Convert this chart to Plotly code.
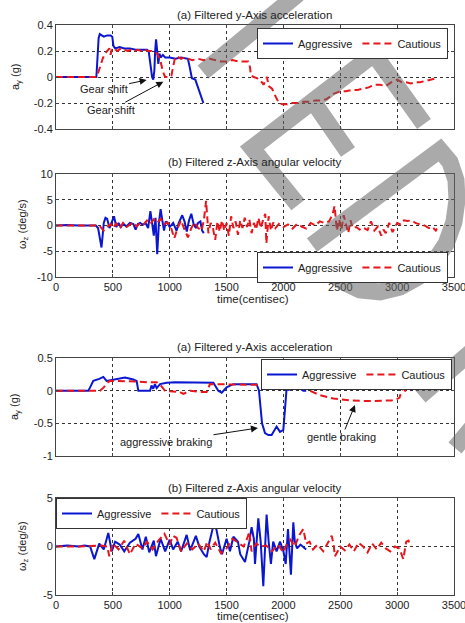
import plotly.graph_objects as go

# ---------------- data ----------------
# Panel 1: y-axis acceleration (g), drive 1
t_c1 = [0, 350, 370, 390, 410, 430, 450, 470, 480, 490,
        510, 540, 570, 600, 630, 660, 690, 720, 750, 780,
        810, 840, 870, 890, 905, 920, 940, 960, 990, 1015,
        1030, 1045, 1060, 1075, 1100, 1130, 1160, 1200, 1250, 1300,
        1350, 1400, 1450, 1500, 1550, 1600, 1650, 1690, 1705, 1715,
        1740, 1770, 1790, 1810, 1825, 1840, 1855, 1870, 1900, 1920,
        1940, 1960, 1990, 2030, 2080, 2130, 2180, 2230, 2280, 2330,
        2380, 2410, 2440, 2470, 2500, 2550, 2600, 2650, 2700, 2750,
        2800, 2850, 2900, 2950, 3000, 3040, 3080, 3120, 3160, 3200,
        3250, 3300, 3345]
ay_c1 = [0.0, 0.0, 0.03, 0.09, 0.14, 0.18, 0.20, 0.22, 0.17, 0.21,
         0.22, 0.20, 0.22, 0.21, 0.20, 0.21, 0.20, 0.21, 0.20, 0.21,
         0.20, 0.20, 0.19, 0.18, 0.15, 0.12, 0.04, 0.0, 0.0, 0.01,
         0.08, 0.14, 0.16, 0.15, 0.14, 0.15, 0.14, 0.13, 0.14, 0.13,
         0.14, 0.13, 0.12, 0.12, 0.13, 0.12, 0.12, 0.12, 0.08, 0.01,
         0.0, -0.01, -0.03, -0.04, -0.06, -0.03, 0.0, -0.07, -0.09, -0.13,
         -0.17, -0.20, -0.21, -0.21, -0.20, -0.20, -0.19, -0.19, -0.18, -0.18,
         -0.17, -0.15, -0.13, -0.12, -0.11, -0.11, -0.10, -0.10, -0.09, -0.08,
         -0.06, -0.06, -0.07, -0.04, -0.02, -0.04, -0.04, -0.05, -0.04, -0.04,
         -0.03, -0.02, -0.01]
t_a1 = [0, 355, 365, 375, 385, 400, 420, 450, 480, 495,
        505, 520, 560, 600, 650, 700, 750, 800, 815, 830,
        845, 855, 865, 872, 880, 890, 900, 910, 920, 940,
        960, 1000, 1050, 1100, 1160, 1175, 1195, 1225, 1296]
ay_a1 = [0.0, 0.0, 0.15, 0.30, 0.33, 0.32, 0.31, 0.32, 0.32, 0.31,
         0.24, 0.22, 0.23, 0.22, 0.22, 0.21, 0.21, 0.21, 0.20, 0.10,
         0.0, -0.02, 0.05, 0.20, 0.29, 0.20, 0.10, 0.18, 0.15, 0.17,
         0.15, 0.15, 0.14, 0.15, 0.14, 0.08, -0.01, -0.02, -0.20]

# Panel 2: z-axis angular velocity (deg/s), drive 1
t_a2 = [0, 100, 200, 300, 350, 370, 390, 400, 410, 420,
        435, 450, 470, 490, 510, 530, 550, 570, 590, 620,
        650, 680, 700, 720, 740, 760, 790, 810, 830, 845,
        860, 875, 890, 905, 920, 935, 950, 965, 980, 1000,
        1030, 1060, 1080, 1110, 1130, 1150, 1170, 1190, 1210, 1230,
        1250, 1270, 1285, 1300]
wz_a2 = [0.0, 0.1, 0.0, 0.0, 0.0, -0.5, -3.5, -4.3, -2.0, 0.5,
         1.5, 1.3, -0.5, 0.5, 1.8, -0.3, 0.5, -0.3, 0.4, -0.2,
         0.5, 0.3, -0.8, 0.3, 0.5, 0.2, 0.4, -0.5, 2.8, 0.5,
         -2.0, 1.5, -5.6, 0.5, 3.2, 1.0, -1.0, 0.8, 0.5, -0.3,
         0.5, -1.0, 0.5, 2.0, 0.8, -1.2, 1.0, 2.3, 0.3, -0.5,
         0.5, 0.8, -1.0, -1.5]
t_c2 = [0, 100, 200, 300, 380, 400, 420, 450, 480, 500,
        530, 560, 590, 620, 650, 680, 710, 740, 770, 800,
        830, 860, 890, 920, 950, 980, 1010, 1040, 1070, 1100,
        1130, 1160, 1190, 1220, 1250, 1280, 1300, 1320, 1340, 1360,
        1380, 1400, 1420, 1440, 1460, 1480, 1500, 1520, 1540, 1560,
        1580, 1600, 1620, 1640, 1660, 1680, 1700, 1720, 1740, 1760,
        1780, 1800, 1820, 1840, 1850, 1870, 1890, 1910, 1930, 1960,
        2000, 2040, 2080, 2120, 2160, 2200, 2240, 2280, 2320, 2360,
        2400, 2430, 2450, 2470, 2490, 2510, 2530, 2550, 2570, 2590,
        2610, 2640, 2670, 2700, 2740, 2770, 2800, 2830, 2860, 2880,
        2900, 2930, 2960, 3000, 3030, 3060, 3090, 3130, 3160, 3200,
        3240, 3280, 3310, 3340, 3350]
wz_c2 = [0.0, 0.0, 0.1, 0.0, 0.0, -0.5, -1.0, -0.3, 0.3, -0.5,
         0.4, -0.6, 0.5, -0.3, 0.2, 0.6, -0.2, 0.5, 0.2, 1.0,
         0.3, 1.2, 0.5, 1.3, 0.2, 0.6, -0.3, -2.5, -0.5, 1.0,
         -0.8, -2.3, -0.5, 0.6, -0.5, -1.0, 1.0, 4.8, -1.5, 0.5,
         -0.5, -2.8, 0.8, -1.2, 1.0, -1.0, 0.5, -2.0, 1.8, -0.5,
         0.8, -1.8, 1.0, -0.5, 1.5, -0.3, 1.2, -1.5, 0.5, -0.8,
         1.5, -0.5, 1.0, 2.3, -3.5, 1.8, -1.0, 0.6, -0.5, 0.3,
         -0.3, 0.2, -0.6, 0.3, -0.2, -0.6, 0.5, 0.0, 0.8, 0.5,
         0.8, 2.0, 3.8, -1.0, 1.2, -0.8, 2.0, 0.3, -1.5, 1.0,
         -0.5, -0.3, -0.8, -0.4, -0.9, 0.8, -1.0, -0.2, -2.0, -0.8,
         -1.5, 0.5, -1.3, 0.5, 0.2, 1.0, 0.9, 1.0, 0.5, 0.2,
         0.0, -0.5, -0.3, -1.0, -0.6]

# Panel 3: y-axis acceleration (g), braking drive
t_a3 = [0, 284, 300, 328, 380, 416, 445, 504, 560, 607,
        680, 709, 724, 760, 827, 840, 855, 870, 885, 915,
        973, 1050, 1150, 1250, 1325, 1384, 1427, 1457, 1500, 1559,
        1650, 1764, 1785, 1800, 1812, 1838, 1867, 1896, 1926, 1940,
        1970, 1999, 2013, 2024, 2034, 2045, 2052, 2087, 2146, 2175,
        2200]
ay_a3 = [0.0, 0.0, 0.05, 0.15, 0.18, 0.21, 0.15, 0.17, 0.19, 0.20,
         0.17, 0.15, 0.0, 0.0, 0.0, 0.08, 0.03, 0.10, 0.04, 0.10,
         0.12, 0.13, 0.13, 0.13, 0.13, 0.12, 0.0, -0.03, 0.05, 0.10,
         0.10, 0.10, 0.0, -0.30, -0.50, -0.65, -0.68, -0.68, -0.60, -0.55,
         -0.63, -0.60, -0.30, 0.0, 0.17, 0.0, 0.05, 0.05, 0.03, 0.0,
         0.0]
t_c3 = [0, 387, 420, 450, 475, 533, 600, 700, 800, 885,
        920, 958, 1000, 1090, 1120, 1150, 1178, 1266, 1325, 1354,
        1450, 1600, 1750, 1900, 2000, 2087, 2110, 2131, 2150, 2175,
        2233, 2321, 2439, 2585, 2732, 2878, 2950, 2996, 3020, 3040,
        3054, 3078]
ay_c3 = [0.0, 0.0, 0.05, 0.12, 0.15, 0.15, 0.14, 0.14, 0.13, 0.13,
         0.08, 0.0, -0.01, -0.02, -0.05, -0.03, 0.0, -0.02, -0.02, 0.10,
         0.10, 0.10, 0.09, 0.08, 0.08, 0.07, 0.11, 0.06, 0.10, 0.05,
         0.0, -0.07, -0.12, -0.15, -0.16, -0.16, -0.15, -0.13, -0.11, 0.0,
         0.04, -0.02]

# Panel 4: z-axis angular velocity (deg/s), braking drive
t_a4 = [0, 100, 200, 250, 300, 337, 380, 420, 460, 490,
        520, 560, 600, 650, 700, 724, 760, 790, 820, 860,
        879, 920, 960, 1000, 1030, 1070, 1100, 1149, 1180, 1230,
        1260, 1300, 1325, 1350, 1383, 1410, 1440, 1460, 1500, 1530,
        1560, 1600, 1620, 1662, 1700, 1720, 1740, 1750, 1779, 1800,
        1823, 1852, 1870, 1890, 1910, 1940, 1970, 2000, 2020, 2040,
        2066, 2087, 2100, 2120, 2150, 2200]
wz_a4 = [0.0, 0.1, 0.0, 0.1, 0.0, -1.3, 0.3, -0.3, 1.4, -0.5,
         0.5, 0.2, -0.5, 0.4, 0.8, 1.3, -0.3, 1.0, -0.6, 0.6,
         -1.0, 0.8, -0.5, 0.7, -0.3, 0.5, -0.5, 1.2, -0.4, 1.1,
         0.0, -0.8, -1.1, 0.5, 2.1, 1.8, 0.0, -0.8, 0.8, -0.5,
         1.0, 0.5, -0.8, -1.6, 0.5, 2.0, 0.8, -1.8, 2.9, 0.5,
         -4.1, 3.3, 0.5, -1.8, 0.5, -0.5, 0.5, -0.5, -1.8, 1.8,
         -2.9, 2.5, 0.5, -0.2, 0.2, -0.3]
t_c4 = [0, 200, 400, 450, 469, 500, 550, 600, 650, 700,
        760, 800, 850, 900, 953, 1000, 1030, 1060, 1100, 1150,
        1200, 1250, 1300, 1330, 1360, 1400, 1450, 1500, 1550, 1600,
        1650, 1680, 1700, 1720, 1760, 1800, 1850, 1900, 1950, 2000,
        2030, 2060, 2100, 2140, 2175, 2200, 2230, 2260, 2300, 2350,
        2400, 2424, 2440, 2453, 2500, 2540, 2580, 2620, 2660, 2700,
        2740, 2780, 2820, 2860, 2900, 2940, 2980, 3020, 3054, 3080,
        3100, 3120]
wz_c4 = [0.0, 0.0, 0.1, 0.0, -1.0, 0.3, -0.3, 0.6, -0.8, 0.3,
         -0.2, 0.5, -0.3, 0.6, 1.3, 0.2, 1.1, 0.9, -0.5, 0.3,
         -0.3, 0.3, -0.5, 0.5, -0.3, 0.4, -0.7, -0.2, 0.8, 0.4,
         0.0, 0.8, 1.5, -0.5, 0.3, 0.0, 0.1, -0.5, 0.2, -0.6,
         0.3, 0.7, 0.0, 1.2, 1.8, 0.3, 0.5, -0.3, 0.2, -0.5,
         0.6, 1.1, 0.3, -1.0, 0.0, -0.4, 0.2, -0.5, 0.4, 0.0,
         -0.6, 0.3, -0.3, 0.4, -0.2, -0.5, 0.0, -0.2, -1.3, 0.5,
         0.6, 0.0]

series_names = ["Aggressive", "Cautious"]
x_ticks = [0, 500, 1000, 1500, 2000, 2500, 3000, 3500]
y_ticks_acc1 = [-0.4, -0.2, 0, 0.2, 0.4]
y_text_acc1 = ["-0.4", "-0.2", "0", "0.2", "0.4"]
y_ticks_w1 = [-10, -5, 0, 5, 10]
y_text_w1 = ["-10", "-5", "0", "5", "10"]
y_ticks_acc2 = [-1, -0.5, 0, 0.5]
y_text_acc2 = ["-1", "-0.5", "0", "0.5"]
y_ticks_w2 = [-5, 0, 5]
y_text_w2 = ["-5", "0", "5"]
titles = ["(a) Filtered y-Axis acceleration", "(b) Filtered z-Axis angular velocity",
          "(a) Filtered y-Axis acceleration", "(b) Filtered z-Axis angular velocity"]

# ---------------- layout helpers ----------------
W, H = 465, 623
FONT = "Liberation Sans, Arial, sans-serif"
TXT = "#222222"
BLUE = "#0b16d0"
RED = "#e8161b"
XDOM = [56 / W, 454 / W]
PANELS = [(25, 129), (174.3, 276.7), (358, 456), (498, 595)]  # top, bottom px


def px(x):
    return x / W


def py(y):
    return 1 - y / H


fig = go.Figure()

data = [
    ((t_a1, ay_a1), (t_c1, ay_c1)),
    ((t_a2, wz_a2), (t_c2, wz_c2)),
    ((t_a3, ay_a3), (t_c3, ay_c3)),
    ((t_a4, wz_a4), (t_c4, wz_c4)),
]
for k, (agg, cau) in enumerate(data, start=1):
    sfx = "" if k == 1 else str(k)
    leg = "legend" + sfx
    fig.add_trace(go.Scatter(x=agg[0], y=agg[1], mode="lines", name=series_names[0],
                             line=dict(color=BLUE, width=2), xaxis="x" + sfx, yaxis="y" + sfx,
                             legend=leg))
    fig.add_trace(go.Scatter(x=cau[0], y=cau[1], mode="lines", name=series_names[1],
                             line=dict(color=RED, width=2, dash="7px,4px"),
                             xaxis="x" + sfx, yaxis="y" + sfx, legend=leg))

yspecs = [([-0.4, 0.4], y_ticks_acc1, y_text_acc1),
          ([-10, 10], y_ticks_w1, y_text_w1),
          ([-1, 0.5], y_ticks_acc2, y_text_acc2),
          ([-5, 5], y_ticks_w2, y_text_w2)]

axis_common = dict(showgrid=True, griddash="dot", gridcolor="#333333", gridwidth=1,
                   showline=True, linecolor="#444444", linewidth=1, mirror="ticks",
                   ticks="inside", ticklen=3, tickcolor="#444444", zeroline=False,
                   automargin=False, ticklabeloverflow="allow",
                   tickfont=dict(family=FONT, size=11, color=TXT), fixedrange=True)

layout = dict(width=W, height=H, margin=dict(l=0, r=0, t=0, b=0, pad=0, autoexpand=False),
              paper_bgcolor="white", plot_bgcolor="white",
              font=dict(family=FONT, size=11, color=TXT))

for k in range(1, 5):
    sfx = "" if k == 1 else str(k)
    top, bot = PANELS[k - 1]
    rng, tv, tt = yspecs[k - 1]
    layout["xaxis" + sfx] = dict(axis_common, domain=XDOM, range=[0, 3500], tickvals=x_ticks,
                                 ticktext=[str(v) for v in x_ticks],
                                 showticklabels=(k in (2, 4)), anchor="y" + sfx)
    layout["yaxis" + sfx] = dict(axis_common, domain=[py(bot), py(top)], range=rng,
                                 tickvals=tv, ticktext=tt, anchor="x" + sfx)

legend_common = dict(orientation="h", bgcolor="white", bordercolor="#333333", borderwidth=1,
                     font=dict(family=FONT, size=11, color=TXT), itemwidth=30,
                     xanchor="right", yanchor="top", traceorder="normal")
layout["legend"] = dict(legend_common, x=px(448), y=py(28))
layout["legend2"] = dict(legend_common, x=px(448), y=py(252))
layout["legend3"] = dict(legend_common, x=px(452), y=py(359))
layout["legend4"] = dict(legend_common, x=px(56), y=py(498), xanchor="left")

ann = []
title_y = [15, 162, 347, 488]
for k in range(4):
    ann.append(dict(text=titles[k], x=px(255), y=py(title_y[k]), xref="paper", yref="paper",
                    showarrow=False, font=dict(size=11.5), xanchor="center", yanchor="middle"))
for yy in (299, 616):
    ann.append(dict(text="time(centisec)", x=px(253), y=py(yy), xref="paper", yref="paper",
                    showarrow=False, font=dict(size=11.5), xanchor="center", yanchor="middle"))
ylabels = [("a<sub>y</sub> (g)", 16, 77), ("\u03c9<sub>z</sub> (deg/s)", 23, 224),
           ("a<sub>y</sub> (g)", 15, 407), ("\u03c9<sub>z</sub> (deg/s)", 23, 546)]
for txt, xx, yy in ylabels:
    ann.append(dict(text=txt, x=px(xx), y=py(yy), xref="paper", yref="paper", textangle=-90,
                    showarrow=False, font=dict(size=11), xanchor="center", yanchor="middle"))

arrow_style = dict(showarrow=True, arrowhead=2, arrowsize=1.4, arrowwidth=1, arrowcolor="#111111",
                   font=dict(size=11))
ann.append(dict(arrow_style, text="Gear shift", x=797, y=-0.023, xref="x", yref="y", ax=-43, ay=9))
ann.append(dict(arrow_style, text="Gear shift", x=944, y=-0.036, xref="x", yref="y", ax=-52, ay=28))
ann.append(dict(arrow_style, text="aggressive braking", x=1776, y=-0.571, xref="x3", yref="y3",
                ax=-92, ay=14))
ann.append(dict(arrow_style, text="gentle braking", x=2629, y=-0.219, xref="x3", yref="y3",
                ax=-13, ay=32))
layout["annotations"] = ann


# semi-transparent watermark strokes (paper coordinates)
def wm_path(*segments):
    parts = []
    for seg in segments:
        cmd = "M"
        for (x, y) in seg:
            parts.append(f"{cmd} {px(x):.4f},{py(y):.4f}")
            cmd = "L"
    return " ".join(parts)


wm = wm_path(
    [(203, 72), (298, -6)],
    [(424, 124), (374, 54), (252, 148), (298, 205)],
    [(312, 100), (348, 152)],
    [(312, 245), (440, 150), (450, 162), (456, 180), (457, 200), (454, 222), (446, 244),
     (434, 262), (418, 277), (400, 287), (380, 292), (360, 290), (343, 282), (330, 270)],
    [(420, 396), (478, 346)],
    [(455, 448), (480, 418)],
)
layout["shapes"] = [dict(type="path", path=wm, xref="paper", yref="paper", layer="above",
                         line=dict(color="rgba(100,100,100,0.55)", width=17),
                         fillcolor="rgba(0,0,0,0)")]

fig.update_layout(layout)
fig.write_html("out.html", config={"displayModeBar": False},
               post_script="document.body.style.margin='0';document.body.style.overflow='hidden';")
